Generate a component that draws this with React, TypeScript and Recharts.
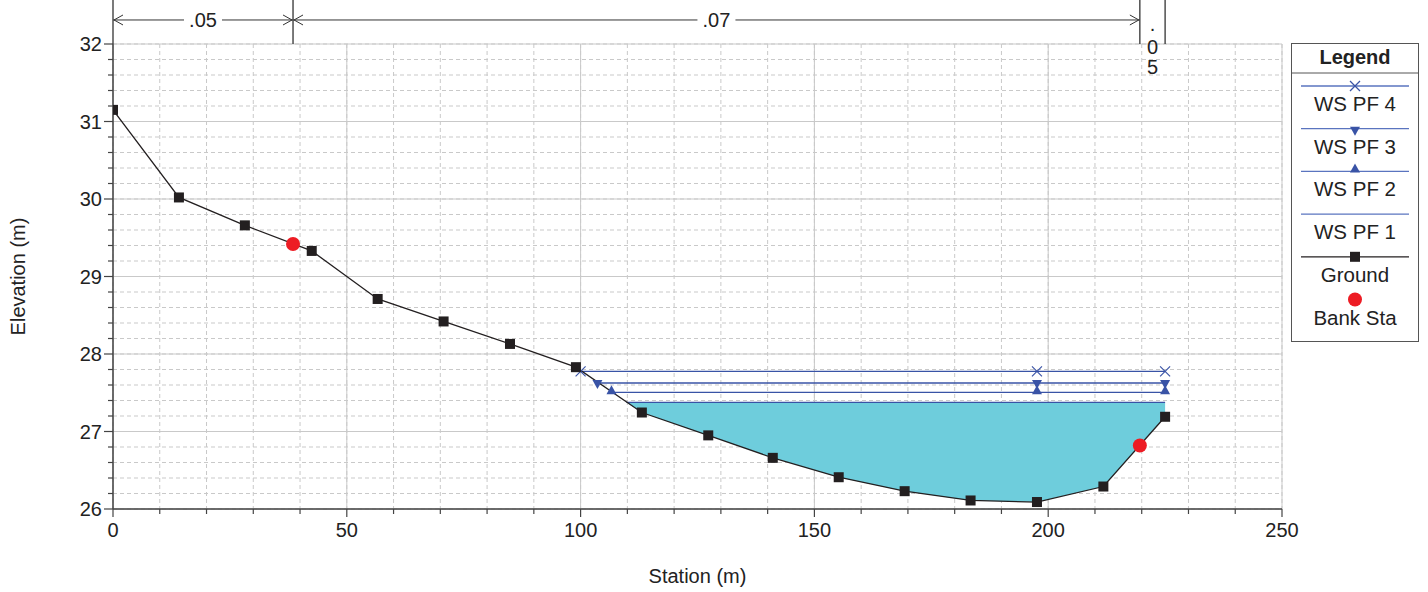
import React from 'react'
import { ComposedChart, Line, Area, XAxis, YAxis, CartesianGrid, ReferenceLine } from 'recharts'

// ground profile (station m, elevation m)
const groundStation = [0, 14.1, 28.2, 42.5, 56.6, 70.7, 84.9, 99.0, 113.1, 127.3, 141.1, 155.2, 169.3, 183.4, 197.6, 211.8, 225.0]
const groundElev = [31.15, 30.02, 29.66, 29.33, 28.71, 28.42, 28.13, 27.83, 27.245, 26.95, 26.66, 26.41, 26.23, 26.11, 26.09, 26.29, 27.19]

// bank stations
const bankStation = [38.5, 219.6]
const bankElev = [29.42, 26.82]

// water surfaces, PF 4 .. PF 1
const wsNames = ['WS PF 4', 'WS PF 3', 'WS PF 2', 'WS PF 1']
const wsElev = [27.776, 27.626, 27.505, 27.375]
const wsLeft = [100.0, 103.6, 106.6, 109.8]
const wsMarkerStations = [197.6, 225.0]

// manning's n along the top
const nBreaks = [0, 38.5, 219.6, 225.0]
const nValues = ['.05', '.07', '.05']

const xTicks = [0, 10, 20, 30, 40, 50, 60, 70, 80, 90, 100, 110, 120, 130, 140, 150, 160, 170, 180, 190, 200, 210, 220, 230, 240, 250]
const xMajor = [0, 50, 100, 150, 200, 250]
const yTicks = [26, 26.2, 26.4, 26.6, 26.8, 27, 27.2, 27.4, 27.6, 27.8, 28, 28.2, 28.4, 28.6, 28.8, 29, 29.2, 29.4, 29.6, 29.8, 30, 30.2, 30.4, 30.6, 30.8, 31, 31.2, 31.4, 31.6, 31.8, 32]
const yMajor = [26, 27, 28, 29, 30, 31, 32]

const FONT = '"Liberation Sans", Arial, sans-serif'
const AXIS = '#444'
const GRID = '#c9c9c9'
const WS_LINE = '#3953a6'
const WS_LEGEND = '#5a74bf'
const GROUND = '#231f20'
const BANK = '#ed1c24'
const WATER = '#6ecddc'
const TEXT = '#222'

const nY = 32.31 // height of the n-value dimension line
const nTop = 32.58

const groundData = groundStation.map((s, i) => ({ x: s, y: groundElev[i] }))
const bankData = bankStation.map((s, i) => ({ x: s, y: bankElev[i] }))
const wsData = wsElev.map((e, i) =>
  i === 3
    ? [{ x: wsLeft[i], y: e }, { x: 225.0, y: e }]
    : [{ x: wsLeft[i], y: e }, ...wsMarkerStations.map(s => ({ x: s, y: e }))]
)
const waterData = [
  { x: wsLeft[3], range: [wsElev[3], wsElev[3]] },
  ...groundData.filter(d => d.x > wsLeft[3]).map(d => ({ x: d.x, range: [d.y, wsElev[3]] })),
]

const XTick = (props: any) => {
  const { x, y, payload } = props
  const v = payload.value
  const major = v % 50 === 0
  return (
    <g>
      <line x1={x} x2={x} y1={y} y2={y + (major ? 8 : 5)} stroke={AXIS} strokeWidth={1.2} />
      {major && (
        <text x={x} y={y + 28} textAnchor="middle" fontSize={20} fontFamily={FONT} fill={TEXT}>
          {v}
        </text>
      )}
    </g>
  )
}

const YTick = (props: any) => {
  const { x, y, payload } = props
  const v = payload.value
  const major = Math.abs(v - Math.round(v)) < 1e-6
  return (
    <g>
      <line x1={x - (major ? 9 : 5)} x2={x} y1={y} y2={y} stroke={AXIS} strokeWidth={1.2} />
      {major && (
        <text x={x - 11} y={y + 7} textAnchor="end" fontSize={20} fontFamily={FONT} fill={TEXT}>
          {Math.round(v)}
        </text>
      )}
    </g>
  )
}

const squareDot = (p: any) => (
  <rect key={`g${p.index}`} x={p.cx - 5} y={p.cy - 5} width={10} height={10} fill={GROUND} />
)
const bankDot = (p: any) => <circle key={`b${p.index}`} cx={p.cx} cy={p.cy} r={7} fill={BANK} />

const wsMarker = (kind: number, color: string) => (p: any) => {
  const { cx, cy, index } = p
  if (kind === 0)
    return (
      <g key={`m${kind}${index}`}>
        <line x1={cx - 5} y1={cy - 5} x2={cx + 5} y2={cy + 5} stroke={color} strokeWidth={1.2} />
        <line x1={cx - 5} y1={cy + 5} x2={cx + 5} y2={cy - 5} stroke={color} strokeWidth={1.2} />
      </g>
    )
  if (kind === 1)
    return <path key={`m${kind}${index}`} d={`M${cx - 5},${cy - 3} L${cx + 5},${cy - 3} L${cx},${cy + 6} Z`} fill={color} />
  if (kind === 2)
    return <path key={`m${kind}${index}`} d={`M${cx - 5},${cy + 2} L${cx + 5},${cy + 2} L${cx},${cy - 7} Z`} fill={color} />
  return <g key={`m${kind}${index}`} />
}

const DimLine = (props: any) => {
  const { x1, x2, y1, text } = props
  const w = x2 - x1
  const cx = (x1 + x2) / 2
  if (w < 40) {
    return (
      <g fontFamily={FONT} fontSize={20} fill={TEXT}>
        {text.split('').map((c: string, i: number) => (
          <text key={i} x={cx} y={i === 0 ? y1 + 11 : y1 + 14 + i * 20} textAnchor="middle">
            {c}
          </text>
        ))}
      </g>
    )
  }
  const gap = 19
  return (
    <g>
      <line x1={x1} x2={cx - gap} y1={y1} y2={y1} stroke="#333" strokeWidth={1} />
      <line x1={cx + gap} x2={x2} y1={y1} y2={y1} stroke="#333" strokeWidth={1} />
      <path d={`M${x1 + 10},${y1 - 5} L${x1 + 1},${y1} L${x1 + 10},${y1 + 5}`} fill="none" stroke="#333" strokeWidth={1} />
      <path d={`M${x2 - 10},${y1 - 5} L${x2 - 1},${y1} L${x2 - 10},${y1 + 5}`} fill="none" stroke="#333" strokeWidth={1} />
      <text x={cx} y={y1 + 7} textAnchor="middle" fontSize={20} fontFamily={FONT} fill={TEXT}>
        {text}
      </text>
    </g>
  )
}

const legendItems = [
  { name: wsNames[0], line: WS_LEGEND, marker: 0 },
  { name: wsNames[1], line: WS_LEGEND, marker: 1 },
  { name: wsNames[2], line: WS_LEGEND, marker: 2 },
  { name: wsNames[3], line: WS_LEGEND, marker: 3 },
  { name: 'Ground', line: GROUND, marker: 4 },
  { name: 'Bank Sta', line: '', marker: 5 },
]

const LegendBox = () => (
  <svg width={129} height={300} style={{ position: 'absolute', left: 1291, top: 43 }} fontFamily={FONT}>
    <rect x={0.5} y={0.5} width={127} height={298} fill="#fff" stroke="#555" strokeWidth={1} />
    <text x={64} y={21} textAnchor="middle" fontSize={20} fontWeight="bold" fill={TEXT}>
      Legend
    </text>
    <line x1={0.5} x2={127.5} y1={30} y2={30} stroke="#555" strokeWidth={1} />
    {legendItems.map((it, i) => {
      const ly = 43 + i * 42.7
      const cx = 64
      return (
        <g key={it.name}>
          {it.line && <line x1={10} x2={118} y1={ly} y2={ly} stroke={it.line} strokeWidth={1.3} />}
          {it.marker < 4 &&
            wsMarker(it.marker, WS_LINE)({ cx, cy: it.marker === 2 ? ly - 1 : it.marker === 1 ? ly + 1 : ly, index: i })}
          {it.marker === 4 && <rect x={cx - 5} y={ly - 5} width={10} height={10} fill={GROUND} />}
          {it.marker === 5 && <circle cx={cx} cy={ly} r={7} fill={BANK} />}
          <text x={cx} y={ly + 25} textAnchor="middle" fontSize={20.5} fill={TEXT}>
            {it.name}
          </text>
        </g>
      )
    })}
  </svg>
)

export default function App() {
  return (
    <div style={{ position: 'absolute', left: 0, top: 0, width: 1428, height: 592, background: '#fff' }}>
      <ComposedChart width={1428} height={592} margin={{ top: 44, right: 146, bottom: 43, left: 0 }}>
        <CartesianGrid stroke={GRID} strokeDasharray="4 3" verticalValues={xTicks} horizontalValues={yTicks} />
        <CartesianGrid stroke={GRID} verticalValues={xMajor} horizontalValues={yMajor} />
        <XAxis
          type="number"
          dataKey="x"
          domain={[0, 250]}
          ticks={xTicks}
          interval={0}
          allowDataOverflow
          height={40}
          tickSize={0}
          tickMargin={0}
          tick={<XTick />}
          axisLine={{ stroke: AXIS, strokeWidth: 1.5 }}
          label={{
            content: (p: any) => (
              <text
                x={p.viewBox.x + p.viewBox.width / 2}
                y={583}
                textAnchor="middle"
                fontSize={20}
                fontFamily={FONT}
                fill={TEXT}
              >
                Station (m)
              </text>
            ),
          }}
        />
        <YAxis
          type="number"
          domain={[26, 32]}
          ticks={yTicks}
          interval={0}
          allowDataOverflow
          width={113}
          tickSize={0}
          tickMargin={0}
          tick={<YTick />}
          axisLine={{ stroke: AXIS, strokeWidth: 1.5 }}
          label={{
            content: (p: any) => {
              const cy = p.viewBox.y + p.viewBox.height / 2
              return (
                <text
                  x={18}
                  y={cy}
                  transform={`rotate(-90 18 ${cy})`}
                  textAnchor="middle"
                  dominantBaseline="central"
                  fontSize={20}
                  fontFamily={FONT}
                  fill={TEXT}
                >
                  Elevation (m)
                </text>
              )
            },
          }}
        />
        <Area
          data={waterData}
          dataKey="range"
          type="linear"
          fill={WATER}
          fillOpacity={1}
          stroke="none"
          isAnimationActive={false}
        />
        {wsData.map((d, i) => (
          <Line
            key={wsNames[i]}
            data={d}
            dataKey="y"
            type="linear"
            stroke={WS_LINE}
            strokeWidth={1.3}
            dot={i < 3 ? wsMarker(i, WS_LINE) : false}
            activeDot={false}
            isAnimationActive={false}
          />
        ))}
        <Line
          data={groundData}
          dataKey="y"
          type="linear"
          stroke={GROUND}
          strokeWidth={1.3}
          dot={squareDot}
          activeDot={false}
          isAnimationActive={false}
        />
        <Line
          data={bankData}
          dataKey="y"
          type="linear"
          stroke="none"
          dot={bankDot}
          activeDot={false}
          isAnimationActive={false}
        />
        {nBreaks.map(b => (
          <ReferenceLine
            key={`v${b}`}
            segment={[
              { x: b, y: 32 },
              { x: b, y: nTop },
            ]}
            ifOverflow="visible"
            stroke="#333"
            strokeWidth={1.3}
          />
        ))}
        {nValues.map((n, i) => (
          <ReferenceLine
            key={`n${i}`}
            segment={[
              { x: nBreaks[i], y: nY },
              { x: nBreaks[i + 1], y: nY },
            ]}
            ifOverflow="visible"
            shape={(p: any) => <DimLine {...p} text={n} />}
          />
        ))}
      </ComposedChart>
      <LegendBox />
    </div>
  )
}
